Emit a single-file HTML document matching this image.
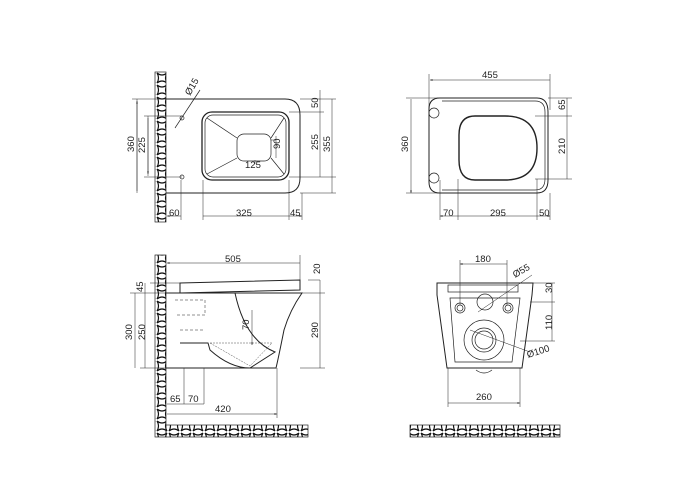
<!DOCTYPE html>
<html><head><meta charset="utf-8"><style>
html,body{margin:0;padding:0;background:#fff}
svg{display:block}
text{font-family:"Liberation Sans",sans-serif;font-size:9.5px;fill:#222}
</style></head><body>
<svg width="700" height="500" viewBox="0 0 700 500" xmlns="http://www.w3.org/2000/svg">
<defs>
<pattern id="st" width="12" height="12" patternUnits="userSpaceOnUse">
<rect width="12" height="12" fill="#fff"/>
<path d="M1 1 Q6 5 11 1 M1 11 Q6 7 11 11 M1 1 Q4 6 1 11 M11 1 Q8 6 11 11" stroke="#111" stroke-width="1.2" fill="none"/>
</pattern>
<marker id="a" viewBox="0 0 6 6" refX="6" refY="3" markerWidth="5" markerHeight="5" orient="auto-start-reverse"><path d="M0 1L6 3L0 5z" fill="#222"/></marker>
</defs>
<g stroke="#222" fill="none" stroke-width="0.7">
<!-- TOP LEFT -->
<rect x="155" y="72" width="11" height="150" fill="url(#st)" stroke="#222"/>
<path d="M166 99 H285 Q300 99 300 115 V178 Q300 193 285 193 H166" stroke-width="1"/>
<rect x="202" y="112" width="87" height="68" rx="10" stroke-width="1.3"/>
<rect x="205" y="115" width="81" height="62" rx="8"/>
<rect x="237" y="134" width="34" height="27" rx="7"/>
<path d="M207 118 L237 138 M284 118 L271 138 M207 174 L237 158 M284 174 L271 158"/>
<circle cx="182" cy="118" r="2" /><circle cx="182" cy="177" r="2"/>
<path d="M175 128 L200 90"/>
<path d="M137 99 V193 M148 116 V176 M132 99 H166 M144 116 H182 M144 177 H182" stroke-width="0.5"/>
<path d="M137 101 V191 M148 118 V174" marker-start="url(#a)" marker-end="url(#a)" stroke-width="0.5"/>
<path d="M300 99 H336 M289 112 H324 M289 177 H336 M300 193 H336 M320 90 V177 M332 99 V193" stroke-width="0.5"/>
<path d="M167 216 H181 M203 216 H289 M289 216 H302" marker-start="url(#a)" marker-end="url(#a)" stroke-width="0.5"/>
<path d="M181 180 V220 M203 180 V220 M289 180 V220 M302 193 V220" stroke-width="0.5"/>
<path d="M255 160 V164 M271 140 H276 M276 136 V158" stroke-width="0.5"/>
<!-- TOP RIGHT -->
<path d="M440 98 H537 Q548 98 548 112 V180 Q548 193 537 193 H440 Q429 193 429 182 V109 Q429 98 440 98Z" stroke-width="1"/>
<path d="M442 101 H535 Q545 101 545 112 V179 Q545 190 535 190 H442"/>
<path d="M475 116 Q459 116 459 135 V160 Q459 180 475 180 H505 Q537 180 537 148 Q537 116 505 116Z" stroke-width="1.4"/>
<circle cx="434" cy="113" r="5"/><circle cx="434" cy="178" r="5"/>
<path d="M430 80 H550 M411 99 V193" marker-start="url(#a)" marker-end="url(#a)" stroke-width="0.5"/>
<path d="M429 74 V110 M550 74 V110 M406 98 H440 M406 193 H440 M548 98 H572 M535 116 H572 M535 179 H572 M567 98 V179" stroke-width="0.5"/>
<path d="M440 216 H458 M458 216 H537 M537 216 H550" marker-start="url(#a)" marker-end="url(#a)" stroke-width="0.5"/>
<path d="M440 180 V220 M458 179 V220 M537 179 V220 M550 193 V220" stroke-width="0.5"/>
<!-- BOTTOM LEFT -->
<rect x="155" y="255" width="11" height="182" fill="url(#st)"/>
<rect x="166" y="425" width="142" height="12" fill="url(#st)"/>
<path d="M180 283 L300 280 L300 290 L180 293 Z" stroke-width="1"/>
<path d="M166 293 H302 Q290 310 284 330 Q278 360 276 368 H166" stroke-width="1"/>
<path d="M235 293 Q245 340 275 352 L250 368 Q230 368 210 350 L208 343 H180" stroke-width="1"/>
<path d="M210 343 H272 L250 366 Z" stroke-dasharray="2 1" stroke-width="0.4"/>
<path d="M175 300 H205 V315 H175 M180 330 H205" stroke-dasharray="3 2" stroke-width="0.5"/>
<path d="M167 263 H300 M167 414 H277" marker-start="url(#a)" marker-end="url(#a)" stroke-width="0.5"/>
<path d="M300 255 V290 M277 368 V418 M150 283 H180 M130 293 H166 M140 368 H166 M308 280 H320 M300 293 H325 M300 368 H325 M320 280 V368 M145 283 V368 M135 293 V368" stroke-width="0.5"/>
<path d="M252 310 V345" marker-end="url(#a)" stroke-width="0.5"/>
<path d="M184 368 V404 M204 368 V404 M167 404 H204" stroke-width="0.5"/>
<!-- BOTTOM RIGHT -->
<path d="M437 283 H533 L532 295 L522 368 H447 L437 295 Z" stroke-width="1"/>
<path d="M450 298 H520 L512 362 H455 Z"/>
<rect x="448" y="285" width="70" height="7"/>
<circle cx="485" cy="302" r="8"/>
<circle cx="460" cy="308" r="5"/><circle cx="460" cy="308" r="3"/>
<circle cx="508" cy="308" r="5"/><circle cx="508" cy="308" r="3"/>
<circle cx="484" cy="340" r="20"/><circle cx="484" cy="340" r="12"/><circle cx="484" cy="340" r="9"/>
<path d="M476 370 Q484 376 492 370"/>
<path d="M460 264 H507 M448 403 H520" marker-start="url(#a)" marker-end="url(#a)" stroke-width="0.5"/>
<path d="M460 260 V305 M507 260 V305 M448 368 V407 M520 368 V407 M533 283 H555 M530 302 H555 M520 341 H555 M552 283 V341 M470 330 L530 352 M478 312 L532 275" stroke-width="0.5"/>
<rect x="410" y="425" width="150" height="12" fill="url(#st)"/>
</g>
<g>
<text x="190" y="96" transform="rotate(-60 190 96)">Ø15</text>
<text x="134" y="152" transform="rotate(-90 134 152)">360</text>
<text x="145" y="153" transform="rotate(-90 145 153)">225</text>
<text x="318" y="108" transform="rotate(-90 318 108)">50</text>
<text x="318" y="150" transform="rotate(-90 318 150)">255</text>
<text x="330" y="152" transform="rotate(-90 330 152)">355</text>
<text x="280" y="149" transform="rotate(-90 280 149)">90</text>
<text x="245" y="168">125</text>
<text x="169" y="216">60</text>
<text x="236" y="216">325</text>
<text x="290" y="216">45</text>
<text x="482" y="78">455</text>
<text x="408" y="152" transform="rotate(-90 408 152)">360</text>
<text x="565" y="110" transform="rotate(-90 565 110)">65</text>
<text x="565" y="154" transform="rotate(-90 565 154)">210</text>
<text x="443" y="216">70</text>
<text x="490" y="216">295</text>
<text x="539" y="216">50</text>
<text x="225" y="262">505</text>
<text x="320" y="274" transform="rotate(-90 320 274)">20</text>
<text x="143" y="292" transform="rotate(-90 143 292)">45</text>
<text x="132" y="340" transform="rotate(-90 132 340)">300</text>
<text x="145" y="340" transform="rotate(-90 145 340)">250</text>
<text x="249" y="330" transform="rotate(-90 249 330)">70</text>
<text x="318" y="338" transform="rotate(-90 318 338)">290</text>
<text x="170" y="402">65</text>
<text x="188" y="402">70</text>
<text x="215" y="412">420</text>
<text x="475" y="262">180</text>
<text x="515" y="278" transform="rotate(-30 515 278)">Ø55</text>
<text x="552" y="293" transform="rotate(-90 552 293)">30</text>
<text x="552" y="330" transform="rotate(-90 552 330)">110</text>
<text x="528" y="358" transform="rotate(-18 528 358)">Ø100</text>
<text x="476" y="400">260</text>
</g>
</svg>
</body></html>
